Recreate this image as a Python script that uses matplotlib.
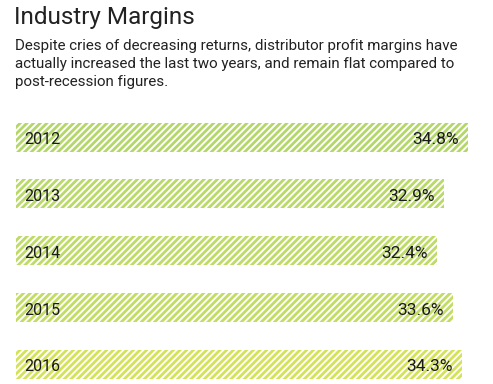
import matplotlib.pyplot as plt

years = ["2012", "2013", "2014", "2015", "2016"]
margins = [34.8, 32.9, 32.4, 33.6, 34.3]
colors = ["#b4d76b", "#b9d968", "#bddb66", "#c3dc63", "#d4e25a"]

title = "Industry Margins"
subtitle = ("Despite cries of decreasing returns, distributor profit margins have\n"
            "actually increased the last two years, and remain flat compared to\n"
            "post-recession figures.")

plt.rcParams["font.family"] = ["Roboto", "DejaVu Sans"]
plt.rcParams["hatch.linewidth"] = 1.4

W, H = 493, 384
fig = plt.figure(figsize=(W / 100, H / 100), dpi=100)
fig.patch.set_facecolor("white")

# axes in pixel terms: x from 16px to right edge, y from 108px to bottom
ax = fig.add_axes([16 / W, 0, 1 - 16 / W, (H - 108) / H])
ax.set_xlim(0, (W - 16) / 13.0)
ax.set_ylim(4.34, -0.51)
ax.axis("off")

ypos = list(range(len(years)))
ax.barh(ypos, margins, height=0.51, color=colors, edgecolor="white",
        linewidth=0, hatch="/////")

for i, (yr, m) in enumerate(zip(years, margins)):
    ax.text(0.6, i + 0.04, yr, ha="left", va="center", fontsize=11.5,
            color="#1a1a1a")
    ax.text(m - 0.7, i + 0.04, f"{m:.1f}%", ha="right", va="center",
            fontsize=12.5, color="#1a1a1a")

fig.text(14 / W, 1 - 6 / H, title, ha="left", va="top", fontsize=17.5,
         color="#222222")
fig.text(15 / W, 1 - 39 / H, subtitle, ha="left", va="top", fontsize=10.9,
         color="#222222", linespacing=1.38)

fig.savefig("out.png", dpi=100)
